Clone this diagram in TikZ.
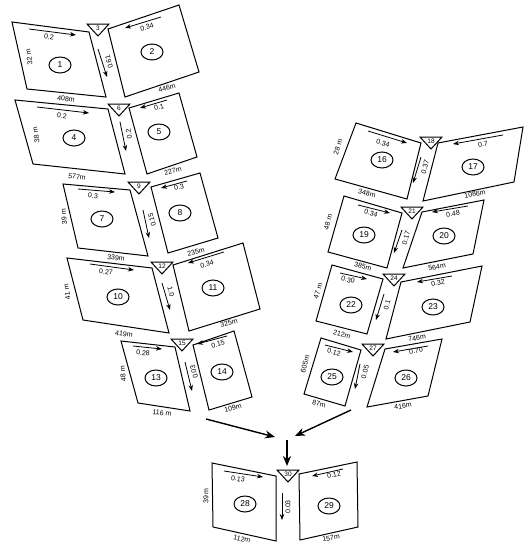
\documentclass[tikz,border=0pt]{standalone}
\usepackage{fontspec}
\setmainfont{Liberation Sans}
\usetikzlibrary{shapes.geometric,arrows.meta}
\tikzset{
  outline/.style={draw=black,line width=1pt,line join=miter},
  slopearrow/.style={draw=black,line width=0.8pt,-{Stealth[length=6pt,width=4.5pt]}},
  bigarrow/.style={draw=black,line width=1.4pt,-{Stealth[length=10pt,width=8pt]}},
  areanum/.style={ellipse,draw=black,line width=1pt,minimum width=22pt,minimum height=16pt,inner sep=0pt,font=\fontsize{8.5}{9}\selectfont},
  lab/.style={inner sep=0pt,font=\fontsize{7}{8}\selectfont},
  trinum/.style={inner sep=0pt,font=\fontsize{6.5}{7}\selectfont}
}
% block: four corners
\newcommand{\blk}[4]{\draw[outline] (#1)--(#2)--(#3)--(#4)--cycle;}
% junction triangle: cx, ytop, number
\newcommand{\jun}[3]{%
  \draw[outline] (#1-11,#2)--(#1+11,#2)--(#1,#2+12)--cycle;
  \node[trinum] (t#3) at (#1,#2+4.5) {#3};}
% area number
\newcommand{\anum}[3]{\node[areanum] (a#3) at (#1,#2) {#3};}
% slope arrow with its label: start, end, label pos, rotation, text
\newcommand{\slp}[5]{\draw[slopearrow] (#1)--(#2); \node[lab,rotate=#4] at (#3) {#5};}
% plain label
\newcommand{\lbl}[3]{\node[lab,rotate=#2] at (#1) {#3};}
\begin{document}
\begin{tikzpicture}[x=1pt,y=-1pt]
\useasboundingbox (0,0) rectangle (524,546);
\fill[white] (0,0) rectangle (524,546);
% left column
\blk{12,22}{89,32}{106,97}{27,89}
\blk{108,29}{179,5}{199,72}{125,97}
\jun{98}{24}{3}
\anum{60}{65}{1}\anum{152}{52}{2}
\slp{29,29}{76,35}{49,37}{-8}{0.2}
\slp{161,17}{125,28}{147,27}{15}{0.34}
\slp{98,49}{107,77}{109,62}{105}{0.61}
\lbl{29,57}{100}{32 m}\lbl{66,99}{-6}{408m}\lbl{167,88}{15}{446m}

\blk{15,100}{108,109}{125,174}{33,164}
\blk{129,108}{179,93}{197,157}{147,174}
\jun{119}{104}{6}
\anum{74}{138}{4}\anum{159}{132}{5}
\slp{37,107}{89,113}{62,116}{-6}{0.2}
\slp{167,100}{140,108}{159,107}{15}{0.1}
\slp{120,122}{126,151}{129,134}{100}{0.2}
\lbl{36,135}{100}{38 m}\lbl{77,177}{-6}{577m}\lbl{173,171}{15}{227m}

\blk{63,184}{130,190}{148,256}{78,248}
\blk{151,187}{200,173}{218,238}{168,253}
\jun{139}{182}{9}
\anum{102}{219}{7}\anum{180}{213}{8}
\slp{78,189}{115,192}{93,196}{-5}{0.3}
\slp{187,181}{161,188}{179,187}{15}{0.3}
\slp{143,210}{149,238}{152,220}{105}{0.15}
\lbl{64,217}{95}{39 m}\lbl{116,258}{-6}{339m}\lbl{196,252}{15}{235m}

\blk{67,258}{152,268}{169,333}{83,320}
\blk{173,265}{243,243}{260,309}{189,331}
\jun{162}{262}{12}
\anum{118}{297}{10}\anum{213}{288}{11}
\slp{90,264}{134,270}{106,272}{-6}{0.27}
\slp{224,252}{188,263}{207,264}{15}{0.34}
\slp{162,283}{170,310}{171,292}{-75}{1.0}
\lbl{67,292}{100}{41 m}\lbl{124,334}{-8}{419m}\lbl{229,323}{15}{325m}

\blk{121,341}{175,347}{190,411}{138,403}
\blk{193,345}{234,331}{252,397}{209,410}
\jun{182}{339}{15}
\anum{156}{378}{13}\anum{222}{372}{14}
\slp{133,346}{162,349}{143,353}{-5}{0.28}
\slp{227,336}{197,344}{218,344}{15}{0.15}
\slp{185,362}{192,391}{194,372}{105}{0.03}
\lbl{123,374}{95}{48 m}\lbl{162,413}{-6}{116 m}\lbl{233,408}{15}{109m}

% right column
\blk{356,123}{421,143}{407,199}{335,179}
\blk{438,143}{523,127}{514,182}{423,201}
\jun{431}{137}{18}
\anum{382}{160}{16}\anum{473}{167}{17}
\slp{368,131}{407,143}{383,143}{-15}{0.34}
\slp{503,135}{453,144}{483,144}{10}{0.7}
\slp{421,157}{413,183}{425,167}{75}{0.37}
\lbl{338,147}{72}{28 m}\lbl{367,193}{-14}{348m}\lbl{475,194}{11}{1086m}

\blk{344,196}{402,213}{387,268}{328,252}
\blk{422,212}{484,200}{473,254}{403,268}
\jun{412}{207}{21}
\anum{364}{235}{19}\anum{444}{236}{20}
\slp{358,205}{390,213}{371,213}{-15}{0.34}
\slp{468,206}{432,212}{453,214}{10}{0.48}
\slp{402,230}{394,253}{406,238}{75}{0.17}
\lbl{328,222}{75}{48 m}\lbl{363,266}{-15}{385m}\lbl{437,267}{10}{564m}

\blk{332,265}{383,279}{367,334}{316,321}
\blk{401,282}{482,266}{470,322}{386,339}
\jun{394}{274}{24}
\anum{351}{305}{22}\anum{433}{307}{23}
\slp{340,273}{367,279}{348,280}{-12}{0.30}
\slp{452,276}{417,282}{438,283}{8}{0.32}
\slp{384,294}{376,320}{387,305}{75}{0.1}
\lbl{318,291}{72}{47 m}\lbl{342,334}{-14}{212m}\lbl{417,338}{9}{746m}

\blk{321,338}{361,350}{345,406}{304,394}
\blk{385,349}{442,339}{428,396}{367,407}
\jun{373}{344}{27}
\anum{332}{377}{25}\anum{406}{378}{26}
\slp{325,345}{353,352}{334,352}{-15}{0.12}
\slp{428,346}{393,352}{416,351}{10}{0.70}
\slp{360,364}{355,389}{365,372}{75}{0.05}
\lbl{305,364}{75}{605m}\lbl{319,404}{-15}{87m}\lbl{403,406}{8}{416m}

% bottom pair
\blk{212,463}{276,476}{276,541}{213,527}
\blk{299,474}{357,462}{358,527}{300,540}
\jun{288}{470}{30}
\anum{245}{504}{28}\anum{329}{506}{29}
\slp{224,471}{263,477}{238,479}{-8}{0.13}
\slp{343,469}{312,476}{334,475}{10}{0.12}
\slp{282,493}{282,520}{288,507}{90}{0.03}
\lbl{206,496}{90}{39 m}\lbl{242,539}{-12}{112m}\lbl{331,538}{10}{157m}

% convergence arrows
\coordinate (fromleft) at (206,419);
\coordinate (toleft) at (275,437);
\coordinate (fromright) at (351,410);
\coordinate (toright) at (295,436);
\coordinate (fromtop) at (287,440);
\coordinate (totop) at (287,466);
\draw[bigarrow] (fromleft)--(toleft);
\draw[bigarrow] (fromright)--(toright);
\draw[bigarrow] (fromtop)--(totop);
\end{tikzpicture}
\end{document}
